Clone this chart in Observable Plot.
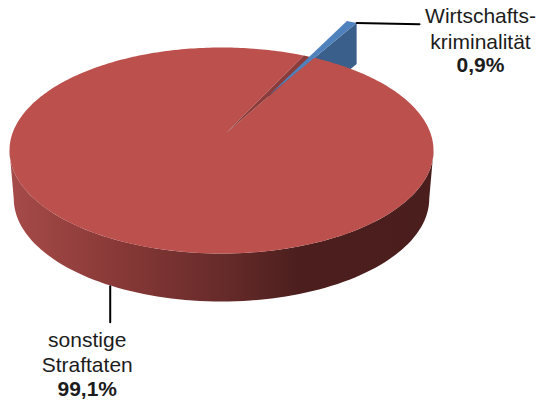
<!DOCTYPE html>
<html lang="de">
<head>
<meta charset="utf-8">
<script src="https://cdn.jsdelivr.net/npm/d3@7"></script>
<script src="https://cdn.jsdelivr.net/npm/@observablehq/plot@0.6"></script>
<style>
  html, body { margin: 0; background: #fff; }
  svg { display: block; }
</style>
</head>
<body>
<script>
// Kriminalitätsanteile in Prozent
const categories = ["Wirtschaftskriminalität", "sonstige Straftaten"];
const shares = [0.9, 99.1];
const nameLines = [["Wirtschafts-", "kriminalität"], ["sonstige", "Straftaten"]];

// Tilted-disc view: k is the perspective strength, bearings run clockwise from the back of the disc
const k = 0.165;
const bearing = 28.5;
const explode = 0.46;
const crimeRadius = 1.09;
const depth = 0.466;
const floorScale = 0.98;
const leaderBearing = 207;
const hub = {u: 0.019, v: k};

const rad = (a) => (a * Math.PI) / 180;
const span = (shares[0] / d3.sum(shares)) * 360;
const from = bearing - span / 2;
const to = bearing + span / 2;

// Projects a point of the disc plane to unit-ellipse coordinates
const project = (X, Z, u0 = 0) => ({
  u: u0 + (Math.sqrt(1 - k * k) * X) / (1 + k * Z),
  v: (Z + k) / (1 + k * Z)
});
const rim = (a) => project(Math.sin(rad(a)), Math.cos(rad(a)));
const shifted = (r, a) =>
  project(r * Math.sin(rad(a)) + explode * Math.sin(rad(bearing)),
          r * Math.cos(rad(a)) + explode * Math.cos(rad(bearing)), hub.u);

// Large slice: top face with its notch
const mainTop = [hub, ...d3.range(to, from + 360, 1).map(rim), rim(from + 360), hub];
// Inside wall of the notch
const notch = [hub, rim(from), rim(to), hub];
// Exploded slice
const crimeHub = shifted(0, 0);
const crimeLeft = shifted(crimeRadius, from);
const crimeRight = shifted(crimeRadius, to);
const crimeTop = [crimeHub, crimeLeft, crimeRight, crimeHub];
const drop = (p, d = depth * 0.85) => ({u: p.u, v: p.v - d});
const crimeWall = [crimeHub, crimeRight, drop(crimeRight), drop(crimeHub), crimeHub];
// Outer wall of the large slice, along the front half of the ellipse
const front = d3.range(180, 361, 2).map((t) => ({u: Math.cos(rad(t)), v: Math.sin(rad(t))}));
const mainWall = [...front, ...front.slice().reverse().map((p) => ({u: p.u * floorScale, v: p.v - depth}))];

// Leader lines and the labels hung on them
const leaderMainStart = (() => {
  const p = rim(leaderBearing);
  return {u: p.u, v: p.v - depth};
})();
const leaderMainEnd = {u: leaderMainStart.u, v: -1.668};
const leaderCrimeStart = crimeRight;
const leaderCrimeEnd = {u: 0.934, v: 1.225};

const percent = (v) => String(v).replace(".", ",") + "%";
const labels = [
  {u: leaderCrimeEnd.u, v: leaderCrimeEnd.v, dx: 61, dy: -8, text: nameLines[0][0], weight: "normal"},
  {u: leaderCrimeEnd.u, v: leaderCrimeEnd.v, dx: 61, dy: 18, text: nameLines[0][1], weight: "normal"},
  {u: leaderCrimeEnd.u, v: leaderCrimeEnd.v, dx: 61, dy: 41, text: percent(shares[0]), weight: "bold"},
  {u: leaderMainEnd.u, v: leaderMainEnd.v, dx: -23, dy: 18, text: nameLines[1][0], weight: "normal"},
  {u: leaderMainEnd.u, v: leaderMainEnd.v, dx: -23, dy: 43, text: nameLines[1][1], weight: "normal"},
  {u: leaderMainEnd.u, v: leaderMainEnd.v, dx: -23, dy: 67, text: percent(shares[1]), weight: "bold"}
];

const svgNS = "http://www.w3.org/2000/svg";
const wallGradient = () => {
  const defs = document.createElementNS(svgNS, "defs");
  const grad = document.createElementNS(svgNS, "linearGradient");
  grad.setAttribute("id", "wallShade");
  [[0, "#a64b49"], [0.24, "#8a3a38"], [0.5, "#672b2a"], [0.68, "#4c1f1e"], [1, "#4a1e1d"]].forEach(([o, c]) => {
    const s = document.createElementNS(svgNS, "stop");
    s.setAttribute("offset", o);
    s.setAttribute("stop-color", c);
    grad.appendChild(s);
  });
  defs.appendChild(grad);
  return defs;
};

const face = (pts, fill) => Plot.line(pts, {x: "u", y: "v", fill, stroke: "none"});
const leader = (a, b) => Plot.line([a, b], {x: "u", y: "v", stroke: "#000", strokeWidth: 2});

// Plot's dx/dy must be constants, so each label gets its own text mark
const labelMarks = labels.map((d) => Plot.text([d], {
  x: "u", y: "v", text: "text", dx: d.dx, dy: d.dy,
  fill: "#1c1c1c", fontSize: 21, fontWeight: d.weight, textAnchor: "middle"
}));

const chart = Plot.plot({
  width: 537,
  height: 401,
  margin: 0,
  style: {fontFamily: "'Liberation Sans', Arial, sans-serif", background: "#fff"},
  x: {domain: [-1, 1], range: [9, 433], axis: null},
  y: {domain: [-1, 1], range: [253, 47], axis: null},
  marks: [
    wallGradient,
    face(crimeWall, "#3a5f8b"),
    face(mainWall, "url(#wallShade)"),
    face(mainTop, "#bc504d"),
    face(notch, "#8a3b3a"),
    face(crimeTop, "#4f81bd"),
    leader(leaderCrimeStart, leaderCrimeEnd),
    leader(leaderMainStart, leaderMainEnd),
    ...labelMarks
  ]
});
document.body.appendChild(chart);
</script>
</body>
</html>
